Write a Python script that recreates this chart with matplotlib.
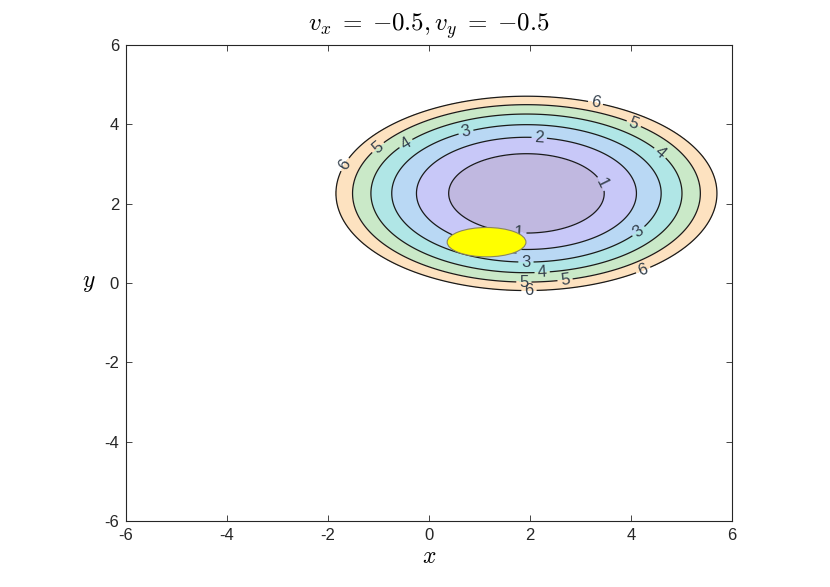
import numpy as np
import matplotlib
matplotlib.use("Agg")
import matplotlib.pyplot as plt
from matplotlib.patches import Ellipse

plt.rcParams['font.family'] = ['Liberation Sans', 'DejaVu Sans']
plt.rcParams['mathtext.fontset'] = 'cm'
plt.rcParams['axes.unicode_minus'] = False

# cost bowl: f = ((x-cx)/ax)^2 + ((y-cy)/ay)^2
bowl_center = (1.93, 2.26)
bowl_axes = (1.54, 1.0)
levels = [0, 1, 2, 3, 4, 5, 6]
fill_colors = ['#c0b8e0', '#c8c8f8', '#b9d8f4', '#b0e6e6', '#cae9c8', '#fde2c0']

# obstacle (yellow ellipse)
obs_center = (1.14, 1.03)
obs_width = 1.56
obs_height = 0.74

# where the contour labels sit
label_pos = [(-1.63, 2.96), (-0.96, 3.34), (-0.41, 3.42), (0.76, 3.67),
             (2.18, 3.60), (3.35, 2.46), (3.31, 4.62), (4.06, 4.03),
             (4.57, 3.27), (4.14, 1.32), (4.25, 0.30), (1.78, 1.27),
             (1.65, 0.76), (1.92, 0.51), (2.24, 0.30), (2.69, 0.13),
             (1.88, 0.12), (1.98, -0.12)]

x = np.linspace(-6, 6, 601)
y = np.linspace(-6, 6, 601)
X, Y = np.meshgrid(x, y)
Z = ((X - bowl_center[0]) / bowl_axes[0])**2 + ((Y - bowl_center[1]) / bowl_axes[1])**2

fig = plt.figure(figsize=(8.3, 5.87), dpi=100)
ax = fig.add_axes([0.1518, 0.1124, 0.7301, 0.8109])

ax.contourf(X, Y, Z, levels=levels, colors=fill_colors)
cs = ax.contour(X, Y, Z, levels=levels[1:], colors='#1a1a1a', linewidths=0.9)
ax.clabel(cs, levels[1:], inline=True, fmt='%d', fontsize=12,
          colors='#34404c', manual=label_pos, inline_spacing=3)

ax.add_patch(Ellipse(obs_center, obs_width, obs_height, facecolor='#ffff00',
                     edgecolor='#8a8560', lw=0.8, zorder=5))

ax.set_xlim(-6, 6)
ax.set_ylim(-6, 6)
ax.set_xticks([-6, -4, -2, 0, 2, 4, 6])
ax.set_yticks([-6, -4, -2, 0, 2, 4, 6])
ax.tick_params(direction='in', top=True, right=True, length=4, width=0.6,
               labelsize=12, colors='#262626', pad=5)
for s in ax.spines.values():
    s.set_color('#262626')
    s.set_linewidth(0.8)

ax.set_title(r'$v_x\;=\;{-0.5}, v_y\;=\;{-0.5}$', fontsize=18, pad=10)
ax.set_xlabel(r'$x$', fontsize=17, labelpad=2)
ax.set_ylabel(r'$y$', fontsize=17, rotation=0, labelpad=11, va='center')

fig.savefig('out.png', dpi=100)
